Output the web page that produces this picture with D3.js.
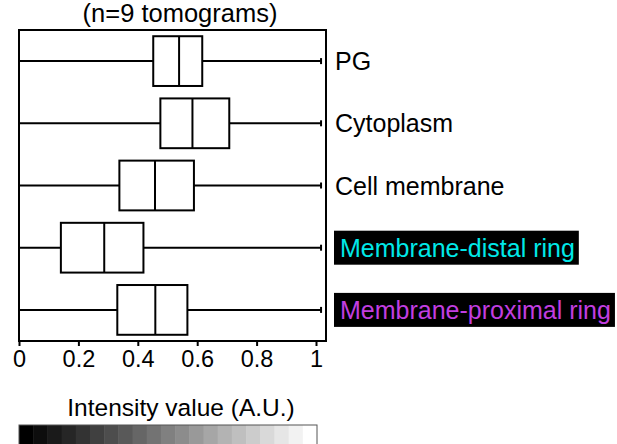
<!DOCTYPE html>
<html><head><meta charset="utf-8">
<script src="https://cdn.jsdelivr.net/npm/d3@7"></script>
<style>body{margin:0;background:#fff}svg{display:block}text{font-family:"Liberation Sans",Arial,sans-serif}</style>
</head><body>
<script>
const categories = ["PG","Cytoplasm","Cell membrane","Membrane-distal ring","Membrane-proximal ring"];
const mins    = [0, 0, 0, 0, 0];
const q1s     = [0.452, 0.476, 0.338, 0.141, 0.331];
const medians = [0.539, 0.584, 0.458, 0.287, 0.459];
const q3s     = [0.617, 0.708, 0.589, 0.419, 0.567];
const maxs    = [1.017, 1.017, 1.017, 1.017, 1.017];
const xTicks  = [0, 0.2, 0.4, 0.6, 0.8, 1];
const xTickLabels = ["0","0.2","0.4","0.6","0.8","1"];
const labelColors = ["#000","#000","#000","#00e8e8","#c23ee0"];
const labelBg = [null, null, null, "#000", "#000"];
const title = "(n=9 tomograms)";
const cbTitle = "Intensity value (A.U.)";
const cbSteps = d3.range(21).map(i => i/20);

const W = 617, H = 444;
const svg = d3.select("body").append("svg").attr("width", W).attr("height", H);

const pL = 19, pT = 30, pB = 341, pR = 326;
const x = d3.scaleLinear().domain([0, (pR-pL)/297]).range([pL, pR]);
const y = d3.scaleBand().domain(categories).range([pT, pB]).paddingInner(0.2).paddingOuter(0.1);

const data = categories.map((c,i)=>({c, min:mins[i], q1:q1s[i], med:medians[i], q3:q3s[i], max:maxs[i], color:labelColors[i], bg:labelBg[i]}));

// frame
svg.append("rect").attr("x", pL).attr("y", pT).attr("width", pR-pL).attr("height", pB-pT)
  .attr("fill","none").attr("stroke","#000").attr("stroke-width",2);

// x axis
const xAxis = svg.append("g").attr("transform", `translate(0,${pB})`)
  .call(d3.axisBottom(x).tickValues(xTicks).tickFormat((d,i)=>xTickLabels[i]).tickSize(5).tickSizeOuter(0));
xAxis.select(".domain").remove();
xAxis.selectAll("line").attr("stroke","#000").attr("stroke-width",2);
xAxis.selectAll("text").attr("font-size",23.5).attr("fill","#000").attr("dy","0.71em").attr("y",9)
  .attr("font-family","'Liberation Sans',Arial,sans-serif");

const g = svg.append("g").selectAll("g").data(data).join("g");
const cy = d => y(d.c) + y.bandwidth()/2;
// whiskers
g.append("line").attr("x1", d=>x(d.min)).attr("x2", d=>x(d.q1)).attr("y1", cy).attr("y2", cy).attr("stroke","#000").attr("stroke-width",2);
g.append("line").attr("x1", d=>x(d.q3)).attr("x2", d=>x(d.max)).attr("y1", cy).attr("y2", cy).attr("stroke","#000").attr("stroke-width",2);
g.append("line").attr("x1", d=>x(d.max)).attr("x2", d=>x(d.max)).attr("y1", d=>cy(d)-3).attr("y2", d=>cy(d)+3).attr("stroke","#000").attr("stroke-width",2);
// boxes
g.append("rect").attr("x", d=>x(d.q1)).attr("y", d=>y(d.c)).attr("width", d=>x(d.q3)-x(d.q1)).attr("height", y.bandwidth())
  .attr("fill","#fff").attr("stroke","#000").attr("stroke-width",2);
g.append("line").attr("x1", d=>x(d.med)).attr("x2", d=>x(d.med)).attr("y1", d=>y(d.c)).attr("y2", d=>y(d.c)+y.bandwidth()).attr("stroke","#000").attr("stroke-width",2);

// labels
const lab = g.append("g").attr("transform", d=>`translate(${pR+8},${cy(d)})`);
lab.append("text").attr("class","lbl").attr("x", d=> d.bg ? 6 : 1).attr("dy","0.36em").attr("font-size",25).attr("fill", d=>d.color).text(d=>d.c);
lab.each(function(d){
  if(!d.bg) return;
  const t = d3.select(this).select("text").node().getBBox();
  d3.select(this).insert("rect","text").attr("x", 0).attr("y", -17).attr("width", t.width+10).attr("height", 34).attr("fill", d.bg);
});

// title
svg.append("text").attr("x", 180).attr("y", 22).attr("text-anchor","middle").attr("font-size",25.5).attr("fill","#000").text(title);

// colorbar
const cbX = d3.scaleBand().domain(cbSteps).range([19, 317]);
svg.append("text").attr("x", 181).attr("y", 416).attr("text-anchor","middle").attr("font-size",24.5).attr("fill","#000").text(cbTitle);
svg.append("g").selectAll("rect").data(cbSteps).join("rect")
  .attr("x", d=>cbX(d)).attr("y", 425).attr("width", cbX.bandwidth()+0.5).attr("height", 20)
  .attr("fill", d=>d3.rgb(d*255,d*255,d*255));
svg.append("rect").attr("x", 19).attr("y", 425).attr("width", 298).attr("height", 20).attr("fill","none").attr("stroke","#555").attr("stroke-width",1);
</script>
</body></html>
